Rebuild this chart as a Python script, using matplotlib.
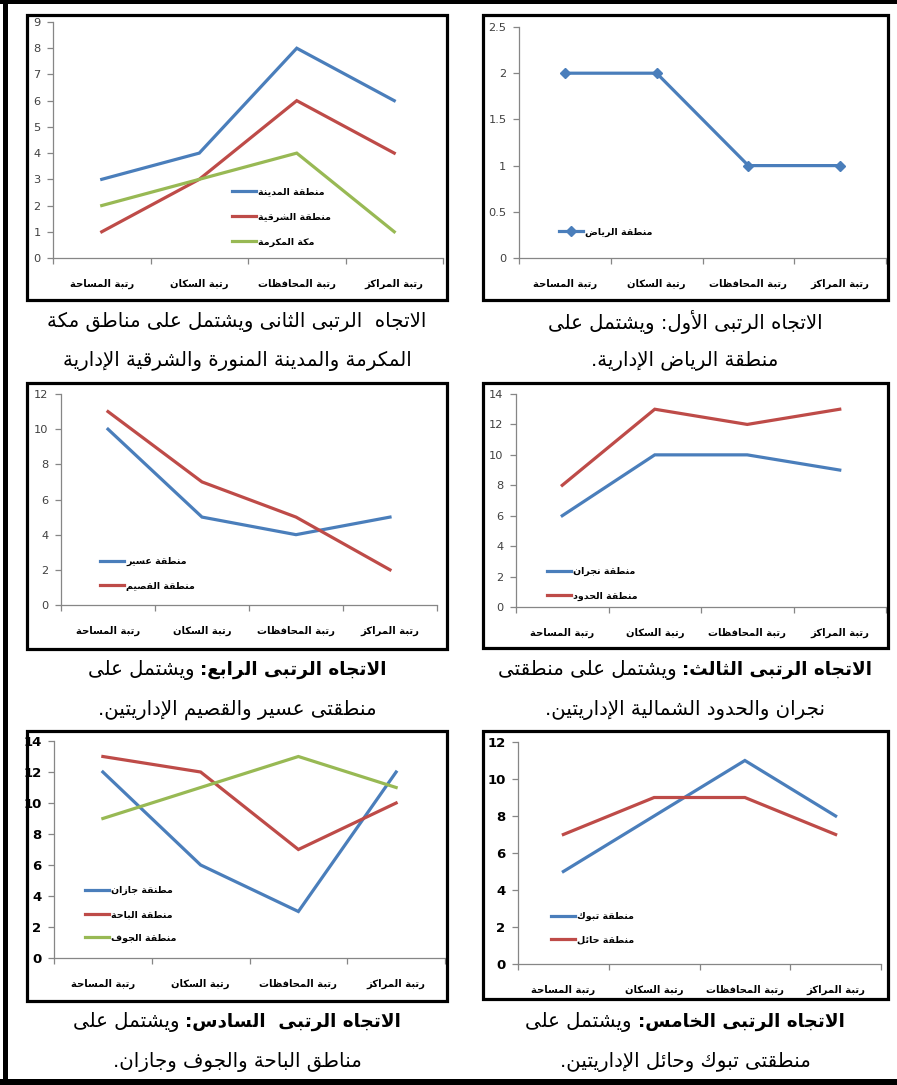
import matplotlib
matplotlib.use("Agg")
import matplotlib.pyplot as plt
from matplotlib.patches import Rectangle
from matplotlib.font_manager import FontProperties

plt.rcParams['font.family'] = ['DejaVu Sans']

# ---------------- data ----------------
categories = ['رتبة المساحة', 'رتبة السكان', 'رتبة المحافظات', 'رتبة المراكز']

riyadh = [2, 2, 1, 1]
madinah = [3, 4, 8, 6]
sharqiyah = [1, 3, 6, 4]
makkah = [2, 3, 4, 1]
najran = [6, 10, 10, 9]
hudud = [8, 13, 12, 13]
asir = [10, 5, 4, 5]
qassim = [11, 7, 5, 2]
tabuk = [5, 8, 11, 8]
hail = [7, 9, 9, 7]
jazan = [12, 6, 3, 12]
baha = [13, 12, 7, 10]
jouf = [9, 11, 13, 11]

labels_p1 = ['منطقة المدينة', 'منطقة الشرقية', 'مكة المكرمة']
labels_p2 = ['منطقة الرياض']
labels_p3 = ['منطقة عسير', 'منطقة القصيم']
labels_p4 = ['منطقة نجران', 'منطقة الحدود']
labels_p5 = ['مطنقة جازان', 'منطقة الباحة', 'منطقة الجوف']
labels_p6 = ['منطقة تبوك', 'منطقة حائل']

yticks_p1 = [0, 1, 2, 3, 4, 5, 6, 7, 8, 9]
yticks_p2 = [0, 0.5, 1, 1.5, 2, 2.5]
ytick_labels_p2 = ['0', '0.5', '1', '1.5', '2', '2.5']
yticks_p3 = [0, 2, 4, 6, 8, 10, 12]
yticks_p4 = [0, 2, 4, 6, 8, 10, 12, 14]
yticks_p5 = [0, 2, 4, 6, 8, 10, 12, 14]
yticks_p6 = [0, 2, 4, 6, 8, 10, 12]

cap_p1 = [('', 'الاتجاه  الرتبى الثانى ويشتمل على مناطق مكة'),
          ('', 'المكرمة والمدينة المنورة والشرقية الإدارية')]
cap_p2 = [('', 'الاتجاه الرتبى الأول: ويشتمل على'),
          ('', 'منطقة الرياض الإدارية.')]
cap_p3 = [('الاتجاه الرتبى الرابع:', 'ويشتمل على'),
          ('', 'منطقتى عسير والقصيم الإداريتين.')]
cap_p4 = [('الاتجاه الرتبى الثالث:', 'ويشتمل على منطقتى'),
          ('', 'نجران والحدود الشمالية الإداريتين.')]
cap_p5 = [('الاتجاه الرتبى  السادس:', 'ويشتمل على'),
          ('', 'مناطق الباحة والجوف وجازان.')]
cap_p6 = [('الاتجاه الرتبى الخامس:', 'ويشتمل على'),
          ('', 'منطقتى تبوك وحائل الإداريتين.')]

BLUE = '#4A7EBB'
RED = '#BE4B48'
GREEN = '#98B954'
AXC = '#868686'

# ---------------- Arabic shaping ----------------
FORMS = {
    '\u0621': ('\uFE80', None, None, None),
    '\u0622': ('\uFE81', '\uFE82', None, None),
    '\u0623': ('\uFE83', '\uFE84', None, None),
    '\u0624': ('\uFE85', '\uFE86', None, None),
    '\u0625': ('\uFE87', '\uFE88', None, None),
    '\u0626': ('\uFE89', '\uFE8A', '\uFE8B', '\uFE8C'),
    '\u0627': ('\uFE8D', '\uFE8E', None, None),
    '\u0628': ('\uFE8F', '\uFE90', '\uFE91', '\uFE92'),
    '\u0629': ('\uFE93', '\uFE94', None, None),
    '\u062A': ('\uFE95', '\uFE96', '\uFE97', '\uFE98'),
    '\u062B': ('\uFE99', '\uFE9A', '\uFE9B', '\uFE9C'),
    '\u062C': ('\uFE9D', '\uFE9E', '\uFE9F', '\uFEA0'),
    '\u062D': ('\uFEA1', '\uFEA2', '\uFEA3', '\uFEA4'),
    '\u062E': ('\uFEA5', '\uFEA6', '\uFEA7', '\uFEA8'),
    '\u062F': ('\uFEA9', '\uFEAA', None, None),
    '\u0630': ('\uFEAB', '\uFEAC', None, None),
    '\u0631': ('\uFEAD', '\uFEAE', None, None),
    '\u0632': ('\uFEAF', '\uFEB0', None, None),
    '\u0633': ('\uFEB1', '\uFEB2', '\uFEB3', '\uFEB4'),
    '\u0634': ('\uFEB5', '\uFEB6', '\uFEB7', '\uFEB8'),
    '\u0635': ('\uFEB9', '\uFEBA', '\uFEBB', '\uFEBC'),
    '\u0636': ('\uFEBD', '\uFEBE', '\uFEBF', '\uFEC0'),
    '\u0637': ('\uFEC1', '\uFEC2', '\uFEC3', '\uFEC4'),
    '\u0638': ('\uFEC5', '\uFEC6', '\uFEC7', '\uFEC8'),
    '\u0639': ('\uFEC9', '\uFECA', '\uFECB', '\uFECC'),
    '\u063A': ('\uFECD', '\uFECE', '\uFECF', '\uFED0'),
    '\u0641': ('\uFED1', '\uFED2', '\uFED3', '\uFED4'),
    '\u0642': ('\uFED5', '\uFED6', '\uFED7', '\uFED8'),
    '\u0643': ('\uFED9', '\uFEDA', '\uFEDB', '\uFEDC'),
    '\u0644': ('\uFEDD', '\uFEDE', '\uFEDF', '\uFEE0'),
    '\u0645': ('\uFEE1', '\uFEE2', '\uFEE3', '\uFEE4'),
    '\u0646': ('\uFEE5', '\uFEE6', '\uFEE7', '\uFEE8'),
    '\u0647': ('\uFEE9', '\uFEEA', '\uFEEB', '\uFEEC'),
    '\u0648': ('\uFEED', '\uFEEE', None, None),
    '\u0649': ('\uFEEF', '\uFEF0', None, None),
    '\u064A': ('\uFEF1', '\uFEF2', '\uFEF3', '\uFEF4'),
}
LAMALEF = {
    '\u0622': ('\uFEF5', '\uFEF6'),
    '\u0623': ('\uFEF7', '\uFEF8'),
    '\u0625': ('\uFEF9', '\uFEFA'),
    '\u0627': ('\uFEFB', '\uFEFC'),
}


def _joins_next(c):
    return c in FORMS and FORMS[c][2] is not None


def _joining(c):
    return c in FORMS and c != '\u0621'


def ar(text):
    chars = list(text)
    n = len(chars)
    out = []
    i = 0
    while i < n:
        c = chars[i]
        if c not in FORMS:
            out.append(c)
            i += 1
            continue
        prev = chars[i - 1] if i > 0 else None
        prev_j = prev is not None and _joins_next(prev)
        if c == '\u0644' and i + 1 < n and chars[i + 1] in LAMALEF:
            iso, fin = LAMALEF[chars[i + 1]]
            out.append(fin if prev_j else iso)
            i += 2
            continue
        nxt = chars[i + 1] if i + 1 < n else None
        next_j = _joins_next(c) and nxt is not None and _joining(nxt)
        iso, fin, ini, med = FORMS[c]
        if prev_j and next_j:
            g = med
        elif prev_j:
            g = fin
        elif next_j:
            g = ini
        else:
            g = iso
        out.append(g)
        i += 1
    return ''.join(reversed(out))


# ---------------- figure ----------------
W, H = 897, 1085
fig = plt.figure(figsize=(W / 100, H / 100), dpi=100)
fig.patch.set_facecolor('white')


def fx(x):
    return x / W


def fy(y):
    return 1 - y / H


def rect_px(l, t, r, b, **kw):
    p = Rectangle((fx(l), fy(b)), (r - l) / W, (b - t) / H,
                  transform=fig.transFigure, **kw)
    fig.add_artist(p)
    return p


# outer table border
rect_px(0, 0, W, 3.5, fc='black', ec='none', zorder=10)
rect_px(3, 0, 7.5, H, fc='black', ec='none', zorder=10)
rect_px(0, 1078.5, W, H, fc='black', ec='none', zorder=10)

cat_font = FontProperties(family='DejaVu Sans', weight='bold', size=7.2)
leg_font = FontProperties(family='DejaVu Sans', weight='bold', size=6.8)


def make_panel(box, area, ylim, yticks, series, labels, colors, leg_xy, leg_rows,
               ytl=None, bold_ticks=False, marker=None):
    rect_px(*box, fill=False, ec='black', lw=2.3, zorder=20)
    l, t, r, b = area
    ax = fig.add_axes([fx(l), fy(b), (r - l) / W, (b - t) / H])
    ax.set_facecolor('none')
    xs = list(range(len(categories)))
    handles = []
    for vals, col in zip(series, colors):
        h, = ax.plot(xs, vals, color=col, lw=2.3, marker=marker, ms=5.5,
                     solid_joinstyle='miter')
        handles.append(h)
    ax.set_xlim(-0.5, len(categories) - 0.5)
    ax.set_ylim(*ylim)
    for s in ('top', 'right'):
        ax.spines[s].set_visible(False)
    for s in ('left', 'bottom'):
        ax.spines[s].set_color(AXC)
        ax.spines[s].set_linewidth(0.9)
    ax.set_yticks(yticks)
    if ytl is not None:
        ax.set_yticklabels(ytl)
    ax.tick_params(axis='y', direction='out', length=4, width=0.9, color=AXC,
                   pad=5, labelsize=9.5 if bold_ticks else 8.2,
                   labelcolor='black' if bold_ticks else '#404040')
    if bold_ticks:
        for tl in ax.get_yticklabels():
            tl.set_fontweight('bold')
    ax.set_xticks(xs)
    ax.set_xticklabels([ar(c) for c in categories], fontproperties=cat_font)
    ax.set_xticks([x - 0.5 for x in range(len(categories) + 1)], minor=True)
    ax.tick_params(axis='x', which='major', length=0, pad=15)
    ax.tick_params(axis='x', which='minor', direction='out', length=4,
                   width=0.9, color=AXC)
    # legend
    lx, ly0, ly1 = leg_xy
    ymid = (ly0 + ly1) / 2
    spacing = (ly1 - ly0) / max(leg_rows - 1, 1)
    fs_px = leg_font.get_size_in_points() * 100 / 72
    ax.legend(handles, [ar(s) for s in labels], loc='center left',
              bbox_to_anchor=(fx(lx), fy(ymid)),
              bbox_transform=fig.transFigure, frameon=False,
              borderpad=0, borderaxespad=0, handlelength=2.5,
              handletextpad=0.25, prop=leg_font,
              labelspacing=(spacing - fs_px * 0.93) / fs_px if leg_rows > 1 else 0.5,
              markerscale=0.9)
    return ax


make_panel((27, 15, 447, 300), (53, 22, 443, 258), (0, 9), yticks_p1,
           [madinah, sharqiyah, makkah], labels_p1, [BLUE, RED, GREEN],
           (232, 192, 242), 3)
make_panel((483, 15, 888, 300), (519, 27, 886, 258), (0, 2.5), yticks_p2,
           [riyadh], labels_p2, [BLUE], (559, 232, 232), 1,
           ytl=ytick_labels_p2, marker='D')
make_panel((27, 383, 447, 649), (61, 394, 437, 605), (0, 12), yticks_p3,
           [asir, qassim], labels_p3, [BLUE, RED], (100, 562, 586), 2)
make_panel((483, 383, 888, 648), (516, 394, 886, 607), (0, 14), yticks_p4,
           [najran, hudud], labels_p4, [BLUE, RED], (547, 572, 596), 2)
make_panel((27, 731, 447, 1001), (54, 741, 445, 958), (0, 14), yticks_p5,
           [jazan, baha, jouf], labels_p5, [BLUE, RED, GREEN],
           (85, 891, 938), 3, bold_ticks=True)
make_panel((483, 731, 888, 999), (518, 742, 881, 964), (0, 12), yticks_p6,
           [tabuk, hail], labels_p6, [BLUE, RED], (551, 917, 940), 2,
           bold_ticks=True)

# ---------------- captions ----------------
CAP_SIZE = 14.2
CAP_BOLD_SIZE = 13.2
renderer = fig.canvas.get_renderer()


def caption(xc, y, bold_part, reg_part):
    gap = 6
    if bold_part:
        tb = fig.text(0, fy(y), ar(bold_part), fontsize=CAP_BOLD_SIZE,
                      fontweight='bold', va='center', ha='left')
    tr = fig.text(0, fy(y), ar(reg_part), fontsize=CAP_SIZE,
                  va='center', ha='left')
    wr = tr.get_window_extent(renderer).width
    if bold_part:
        wb = tb.get_window_extent(renderer).width
        total = wb + gap + wr
        left = xc - total / 2
        tr.set_x(fx(left))
        tb.set_x(fx(left + wr + gap))
    else:
        tr.set_x(fx(xc - wr / 2))


cap_rows = [(237, 322, 361, cap_p1), (685, 322, 361, cap_p2),
            (237, 670, 710, cap_p3), (685, 670, 710, cap_p4),
            (237, 1022, 1062, cap_p5), (685, 1022, 1062, cap_p6)]
for xc, y1, y2, cap in cap_rows:
    caption(xc, y1, *cap[0])
    caption(xc, y2, *cap[1])

fig.savefig('out.png', dpi=100)
